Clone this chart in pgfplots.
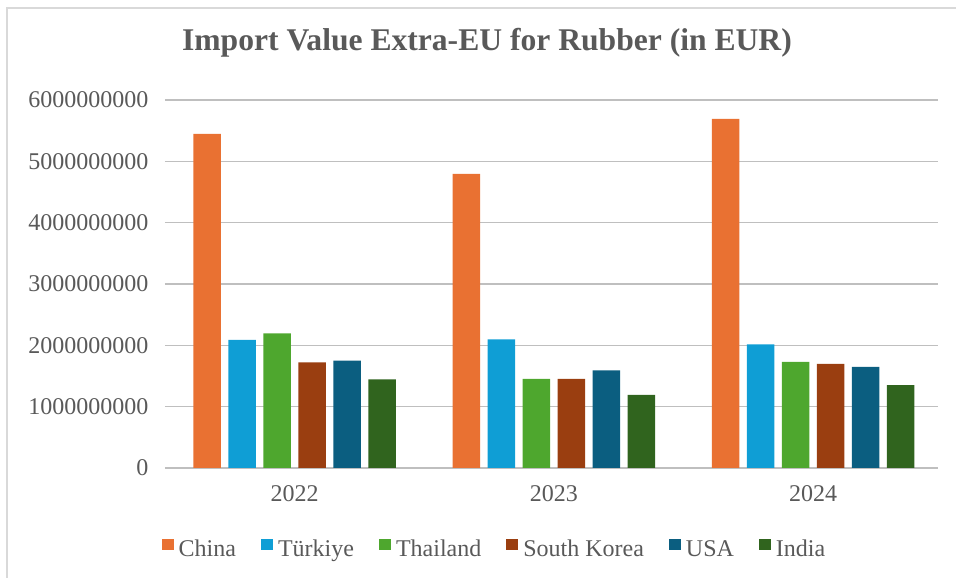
\documentclass[border=0pt]{standalone}
\usepackage{fontspec}
\setmainfont{Liberation Serif}
\usepackage{pgfplots}
\pgfplotsset{compat=1.18}
\definecolor{cChina}{HTML}{E97132}
\definecolor{cTurk}{HTML}{0F9ED5}
\definecolor{cThai}{HTML}{4EA72E}
\definecolor{cKorea}{HTML}{9A3E10}
\definecolor{cUSA}{HTML}{0B5E80}
\definecolor{cIndia}{HTML}{30641E}
\definecolor{txt}{HTML}{595959}
\definecolor{grid}{HTML}{D9D9D9}
\begin{document}
\begin{tikzpicture}
\useasboundingbox (-165pt,-110pt) rectangle (791pt,468pt);
\draw[grid, line width=2pt] (-158pt,-111pt) -- (-158pt,459.5pt) -- (792pt,459.5pt);
\begin{axis}[
  at={(0pt,0pt)}, anchor=south west,
  scale only axis, width=773pt, height=368pt,
  ybar=7.5pt, bar width=27.5pt,
  xmin=-0.5, xmax=2.482, ymin=0, ymax=6000000000,
  xtick={0,1,2}, xticklabels={2022,2023,2024},
  ytick={0,1000000000,2000000000,3000000000,4000000000,5000000000,6000000000},
  scaled y ticks=false,
  yticklabel style={/pgf/number format/fixed, /pgf/number format/precision=0, /pgf/number format/1000 sep={}},
  /pgf/number format/assume math mode=true,
  major tick length=0pt,
  tick style={draw=none},
  xmajorgrids=false,
  axis line style={draw=none},
  ymajorgrids, grid style={grid, line width=1.5pt},
  tick label style={text=txt, font=\fontsize{24}{28}\selectfont},
  yticklabel style={xshift=-13pt},
  xticklabel style={yshift=-14pt},
  title={Import Value Extra-EU for Rubber (in EUR)},
  title style={at={(0.4165,1)}, anchor=base, yshift=43.3pt, text=txt, font=\bfseries\fontsize{31.6}{36}\selectfont},
  legend columns=-1,
  legend style={draw=none, fill=none, at={(0.425,0)}, anchor=center, yshift=-80.5pt, text=txt,
    font=\fontsize{24}{28}\selectfont, inner sep=0pt, nodes={inner sep=0pt},
    /tikz/every odd column/.append style={column sep=5pt},
    /tikz/every even column/.append style={column sep=25pt}},
  legend image code/.code={\fill[#1] (0pt,-1pt) rectangle (12pt,10pt);},
  every axis plot/.append style={draw=none},
]
\addplot[fill=cChina] coordinates {(0,5447000000) (1,4797000000) (2,5691000000)};
\addplot[fill=cTurk] coordinates {(0,2087000000) (1,2098000000) (2,2016000000)};
\addplot[fill=cThai] coordinates {(0,2195000000) (1,1453000000) (2,1729000000)};
\addplot[fill=cKorea] coordinates {(0,1724000000) (1,1453000000) (2,1696000000)};
\addplot[fill=cUSA] coordinates {(0,1751000000) (1,1593000000) (2,1648000000)};
\addplot[fill=cIndia] coordinates {(0,1447000000) (1,1192000000) (2,1350000000)};
\legend{China,Türkiye,Thailand,South Korea,USA,India}
\end{axis}
\end{tikzpicture}
\end{document}
